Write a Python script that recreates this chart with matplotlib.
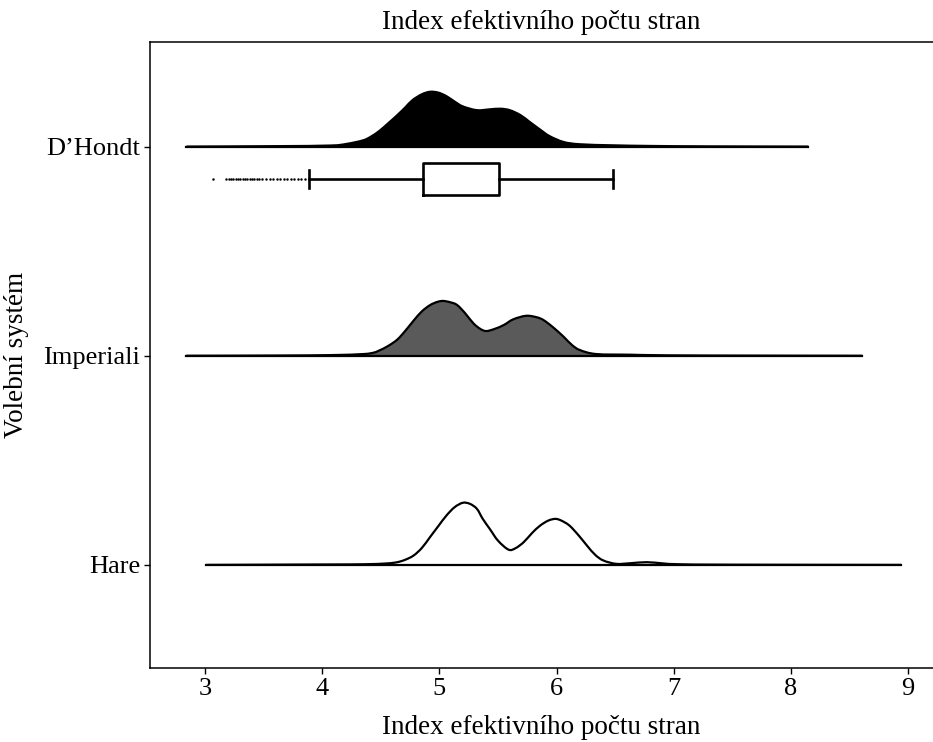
import numpy as np
import matplotlib.pyplot as plt
from matplotlib.path import Path
from matplotlib.patches import PathPatch

plt.rcParams['font.family'] = ['Liberation Serif', 'DejaVu Serif']

# categories (bottom to top)
systems = ['Hare', 'Imperiali', 'D\u2019Hondt']

# density outlines: x value, height (in category units)
hare_x = [3.01, 4.00, 4.35, 4.55, 4.64, 4.71, 4.78, 4.85, 4.92, 4.99, 5.06, 5.13, 5.20, 5.26,
          5.32, 5.37, 5.43, 5.50, 5.59, 5.65, 5.72, 5.79, 5.86, 5.93, 5.99, 6.04, 6.11,
          6.19, 6.26, 6.33, 6.40, 6.51, 6.63, 6.77, 6.91, 7.05, 7.50, 8.94]
hare_h = [0.000, 0.002, 0.003, 0.007, 0.013, 0.025, 0.045, 0.081, 0.133, 0.185, 0.236, 0.276, 0.297, 0.292,
          0.268, 0.220, 0.172, 0.116, 0.073, 0.080, 0.109, 0.152, 0.188, 0.212, 0.220, 0.212, 0.188,
          0.140, 0.092, 0.048, 0.021, 0.005, 0.008, 0.013, 0.007, 0.003, 0.001, 0.000]

imp_x = [2.84, 3.60, 4.07, 4.35, 4.44, 4.49, 4.56, 4.64, 4.71, 4.78, 4.85, 4.92, 4.98, 5.03,
         5.09, 5.15, 5.22, 5.29, 5.35, 5.40, 5.47, 5.55, 5.63, 5.74, 5.83, 5.89, 5.97, 6.06,
         6.13, 6.20, 6.34, 6.63, 6.80, 7.30, 8.61]
imp_h = [0.000, 0.001, 0.003, 0.008, 0.015, 0.026, 0.046, 0.077, 0.120, 0.168, 0.212, 0.242, 0.257, 0.262,
         0.256, 0.243, 0.203, 0.155, 0.128, 0.118, 0.128, 0.147, 0.174, 0.191, 0.184, 0.170, 0.136, 0.091,
         0.052, 0.027, 0.008, 0.005, 0.003, 0.001, 0.000]

dh_x = [2.84, 3.60, 4.07, 4.21, 4.35, 4.42, 4.49, 4.56, 4.64, 4.71, 4.77, 4.85, 4.92, 4.99,
        5.06, 5.13, 5.20, 5.32, 5.43, 5.52, 5.60, 5.69, 5.77, 5.86, 5.94, 6.06, 6.20, 6.48,
        6.80, 7.30, 8.15]
dh_h = [0.000, 0.002, 0.005, 0.013, 0.030, 0.049, 0.076, 0.110, 0.150, 0.188, 0.222, 0.250, 0.262, 0.258,
        0.241, 0.215, 0.192, 0.174, 0.178, 0.181, 0.174, 0.151, 0.118, 0.081, 0.050, 0.022, 0.011, 0.006,
        0.003, 0.001, 0.000]

# boxplot of D'Hondt (no median line visible in the original)
dh_q1, dh_q3 = 4.857, 5.509
dh_whislo, dh_whishi = 3.885, 6.479
dh_outliers = [3.066, 3.18, 3.20, 3.22, 3.24, 3.26, 3.28, 3.30, 3.32, 3.34, 3.36, 3.38, 3.40,
               3.42, 3.44, 3.46, 3.49, 3.52, 3.55, 3.58, 3.61, 3.64, 3.67, 3.70, 3.73, 3.76,
               3.79, 3.82, 3.85]

xticks = [3, 4, 5, 6, 7, 8, 9]


def smooth_path(xs, ys, base):
    # cubic bezier through the read points (catmull-rom), closed along the baseline
    p = np.column_stack([xs, ys])
    n = len(p)
    verts = [p[0]]
    codes = [Path.MOVETO]
    for i in range(n - 1):
        p0 = p[max(i - 1, 0)]
        p1 = p[i]
        p2 = p[i + 1]
        p3 = p[min(i + 2, n - 1)]
        c1 = p1 + (p2 - p0) / 6.0
        c2 = p2 - (p3 - p1) / 6.0
        verts += [c1, c2, p2]
        codes += [Path.CURVE4] * 3
    line = Path(verts, codes)
    verts2 = verts + [(xs[-1], base), (xs[0], base), (xs[0], base)]
    codes2 = codes + [Path.LINETO, Path.LINETO, Path.CLOSEPOLY]
    return line, Path(verts2, codes2)


fig = plt.figure(figsize=(9.33, 7.42), dpi=100)
ax = fig.add_axes([0.1608, 0.0997, 0.8392, 0.8437])

curves = [(hare_x, hare_h, 'white'), (imp_x, imp_h, '#5a5a5a'), (dh_x, dh_h, 'black')]
for i, (xs, hs, col) in enumerate(curves):
    base = i + 1
    top = base + np.array(hs)
    line, area = smooth_path(np.array(xs), top, base)
    ax.add_patch(PathPatch(area, facecolor=col, edgecolor='none', zorder=2))
    ax.add_patch(PathPatch(line, facecolor='none', edgecolor='black', lw=1.6,
                           joinstyle='round', zorder=3))
    ax.plot([xs[0], xs[-1]], [base, base], color='black', lw=1.6, zorder=3)

stats = [{'q1': dh_q1, 'q3': dh_q3, 'med': dh_q1, 'whislo': dh_whislo,
          'whishi': dh_whishi, 'fliers': dh_outliers}]
ax.bxp(stats, positions=[2.845], widths=0.155, capwidths=0.084, orientation='horizontal',
       showfliers=True, manage_ticks=False,
       boxprops=dict(color='black', lw=1.9),
       whiskerprops=dict(color='black', lw=1.9),
       capprops=dict(color='black', lw=1.9),
       medianprops=dict(lw=0),
       flierprops=dict(marker='o', markersize=1.4, markerfacecolor='black',
                       markeredgecolor='black', markeredgewidth=0.3))

ax.set_xlim(2.53, 9.213)
ax.set_ylim(0.507, 3.50)
ax.set_xticks(xticks)
ax.set_yticks([1, 2, 3])
ax.set_yticklabels(systems)
ax.tick_params(axis='both', labelsize=19, length=4, width=1, colors='black', pad=3)
ax.spines['right'].set_visible(False)
for s in ['left', 'top', 'bottom']:
    ax.spines[s].set_linewidth(1.1)

ax.set_xlabel('Index efektivn\u00edho po\u010dtu stran', fontsize=19.5, labelpad=11)
ax.set_ylabel('Volebn\u00ed syst\u00e9m', fontsize=19.5)
ax.yaxis.set_label_coords(-0.155, 0.5)
ax.set_title('Index efektivn\u00edho po\u010dtu stran', fontsize=19.5, pad=9)

fig.savefig('out.png', dpi=100)
